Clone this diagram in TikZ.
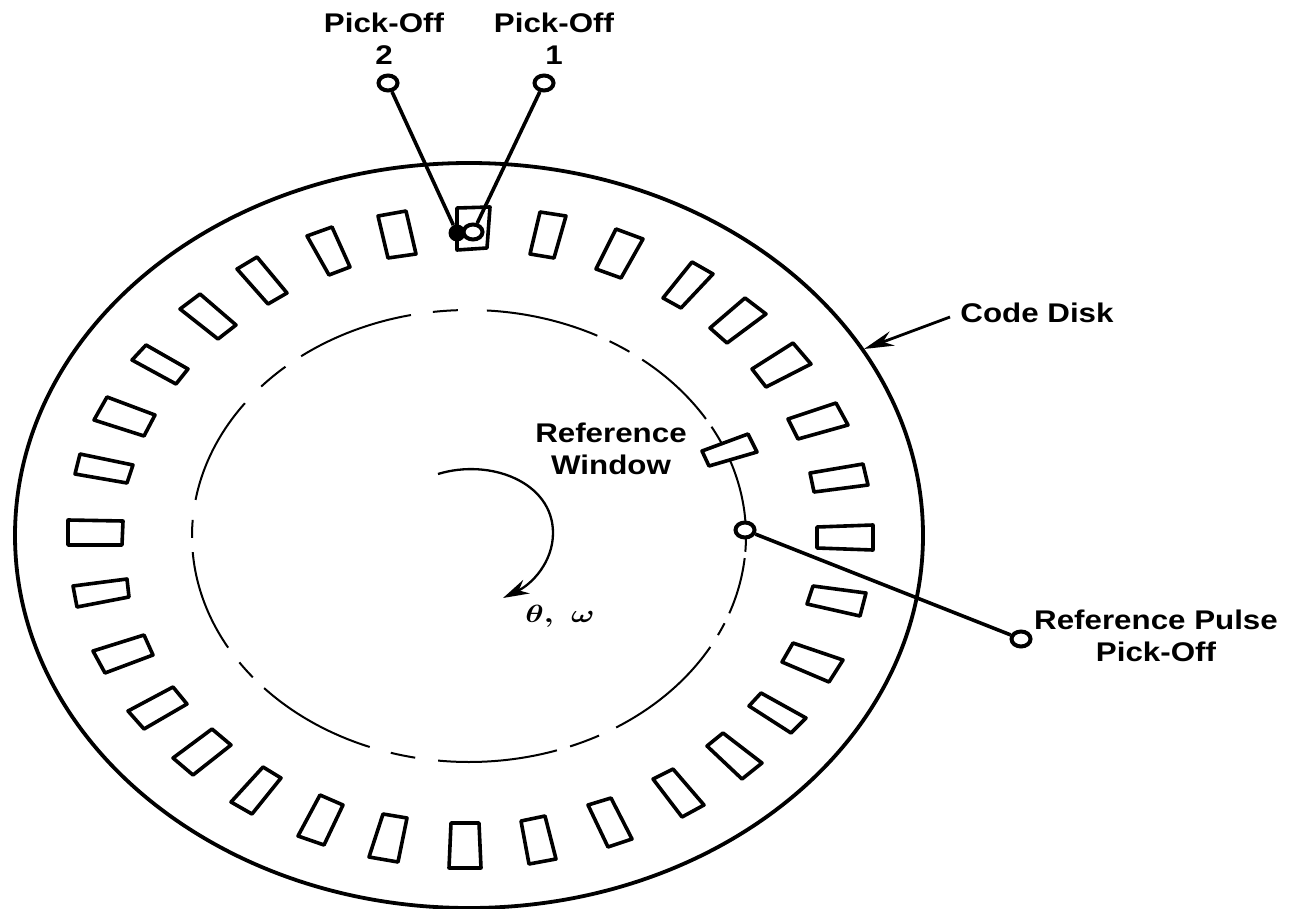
\documentclass[tikz,border=0pt]{standalone}
\usepackage{fontspec}
\usepackage{graphicx}
\usetikzlibrary{arrows.meta,shapes.geometric}
\newfontfamily\lblfont[FakeStretch=1.16]{Liberation Sans Bold}
\tikzset{
  slot/.style={draw=black,line width=3.6pt,line join=round,fill=white},
  rim/.style={draw=black,line width=3.8pt},
  track/.style={draw=black,line width=2pt},
  probe/.style={draw=black,line width=3.6pt},
  lbl/.style={font=\lblfont\fontsize{27}{32}\selectfont,align=center,inner sep=0pt,text=black},
  hollow/.style={ellipse,draw=black,fill=white,line width=4pt,inner sep=0pt,minimum width=19pt,minimum height=15pt},
  solid dot/.style={circle,fill=black,inner sep=0pt,minimum size=17pt},
}
\begin{document}
\begin{tikzpicture}[x=1pt,y=-1pt]
\useasboundingbox (0,0) rectangle (1289,909);
\draw[rim] (469,535.5) ellipse [x radius=454,y radius=372.5];
% inner dashed track
\foreach \a/\b in {97.5/92.3,86.3/62.4,59.5/54.6,51.3/31.2,28.9/-4,-5.6/-20,-22.7/-26,-29.4/-57.9,-62/-68.6,-71.5/-96.4,-101.2/-106.4,-111/-137.7,-141.3/-146,-150.4/-175.9,-179.5/-184.1,-189.2/-216,-221.4/-228.5,-232.7/-257.9}{
  \draw[track] plot[domain=\a:\b,samples=40,smooth] ({469+277*cos(\x)},{536-226*sin(\x)});
}
% slots
\foreach \p in {
 {(80,454) -- (133,465) -- (127,483) -- (75,474)},
 {(68,520) -- (123,521) -- (122,545) -- (68,545)},
 {(73,586) -- (127,579) -- (129,597) -- (77,607)},
 {(93,651) -- (144,635) -- (153,655) -- (105,673)},
 {(128,711) -- (173,687) -- (187,704) -- (144,729)},
 {(173,758) -- (212,729) -- (231,745) -- (193,775)},
 {(231,802) -- (263,767) -- (281,778) -- (252,814)},
 {(298,836) -- (320,795) -- (343,805) -- (324,845)},
 {(369,857) -- (383,814) -- (407,818) -- (398,862)},
 {(107,397) -- (155,415) -- (144,436) -- (94,420)},
 {(146,345) -- (188,369) -- (176,384) -- (132,360)},
 {(200,294) -- (236,325) -- (218,339) -- (180,309)},
 {(257,257) -- (287,293) -- (268,304) -- (237,269)},
 {(332,227) -- (350,267) -- (329,275) -- (307,236)},
 {(406,211) -- (416,254) -- (388,258) -- (378,216)},
 {(457,208) -- (490,207) -- (487,248) -- (457,250)},
 {(540,212) -- (566,216) -- (554,258) -- (530,254)},
 {(616,229) -- (643,239) -- (621,278) -- (596,269)},
 {(692,262) -- (713,274) -- (681,308) -- (663,298)},
 {(745,298) -- (766,314) -- (727,343) -- (710,328)},
 {(793,343) -- (811,364) -- (766,387) -- (752,369)},
 {(836,403) -- (848,425) -- (798,439) -- (788,419)},
 {(748,434) -- (757,452) -- (709,466) -- (702,451)},
 {(863,464) -- (868,485) -- (814,492) -- (810,473)},
 {(817,527) -- (873,525) -- (873,550) -- (817,548)},
 {(813,586) -- (866,593) -- (860,616) -- (807,604)},
 {(793,643) -- (843,660) -- (829,682) -- (782,662)},
 {(761,693) -- (806,718) -- (791,733) -- (749,706)},
 {(723,733) -- (762,763) -- (742,779) -- (707,746)},
 {(673,769) -- (704,805) -- (682,817) -- (653,779)},
 {(611,798) -- (632,839) -- (608,847) -- (588,805)},
 {(545,816) -- (556,859) -- (529,864) -- (521,821)},
 {(451,823) -- (479,823) -- (481,868) -- (449,868)}}{
  \draw[slot] \p -- cycle;
}
% pick-offs
\node[hollow] (p2) at (388,83) {};
\node[hollow] (p1) at (544,83) {};
\node[solid dot] (d2) at (457,233) {};
\node[hollow] (d1) at (473,232) {};
\draw[probe] (p2) -- (d2);
\draw[probe] (p1) -- (d1);
\node[hollow] (rp) at (745,530) {};
\node[hollow] (re) at (1021,639) {};
\draw[probe] (rp) -- (re);
% labels
\node[lbl] (l2) at (384,39) {Pick-Off\\2};
\node[lbl] (l1) at (554,39) {Pick-Off\\1};
\node[lbl] (lw) at (611,449) {Reference\\Window};
\node[lbl] (lc) at (1037,313) {Code Disk};
\node[lbl] (lp) at (1156,636) {Reference Pulse\\Pick-Off};
\node[inner sep=0pt,anchor=base] (lt) at (560,622) {\fontsize{30}{32}\selectfont\scalebox{1.25}[1]{\boldmath$\theta,\ \omega$}};
% code disk arrow
\coordinate (ca) at (950,317);
\coordinate (cb) at (864,349);
\draw[line width=2.8pt,-{Stealth[length=30pt,width=15pt]}] (ca) -- (cb);
% rotation arrow
\coordinate (r0) at (438,474);
\coordinate (r1) at (553,533);
\coordinate (r2) at (503,598);
\draw[line width=2.3pt,-{Stealth[length=26pt,width=15pt]}] (r0) .. controls (490,458) and (553,482) .. (r1) .. controls (553,562) and (532,584) .. (r2);
\end{tikzpicture}
\end{document}
